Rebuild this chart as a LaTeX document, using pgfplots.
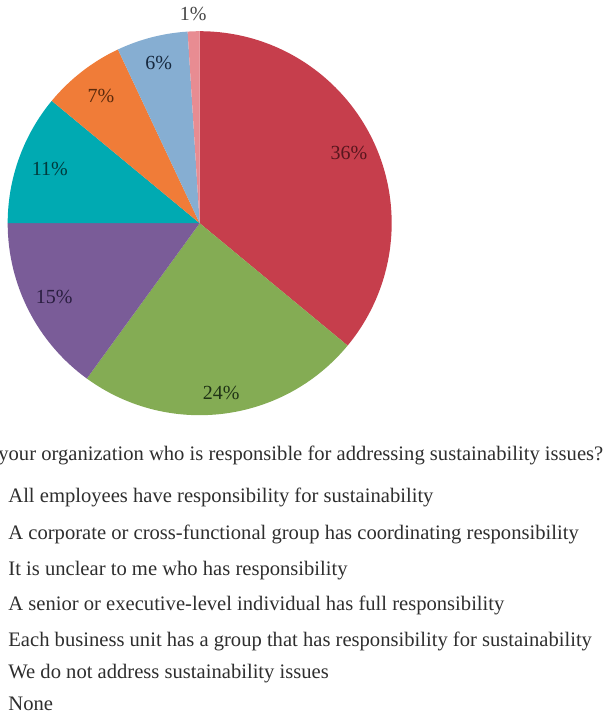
\documentclass[border=0pt]{standalone}
\usepackage{pgfplots}
\usepackage{pgfplotstable}
\usepackage{fontspec}
\pgfplotsset{compat=1.18}
\setmainfont{Liberation Serif}

\definecolor{cRed}{RGB}{198,62,76}
\definecolor{cGreen}{RGB}{132,172,84}
\definecolor{cPurple}{RGB}{122,92,152}
\definecolor{cTeal}{RGB}{0,170,178}
\definecolor{cOrange}{RGB}{240,124,56}
\definecolor{cBlue}{RGB}{134,174,210}
\definecolor{cPink}{RGB}{232,140,146}
\definecolor{tRed}{RGB}{88,22,30}
\definecolor{tGreen}{RGB}{32,52,22}
\definecolor{tPurple}{RGB}{42,30,64}
\definecolor{tTeal}{RGB}{0,58,60}
\definecolor{tOrange}{RGB}{92,42,12}
\definecolor{tBlue}{RGB}{22,40,62}
\definecolor{tGray}{RGB}{70,70,70}

% share in percent, slice colour, label colour, label distance (radius = 1)
\pgfplotstableread{
share fill    text    dist
36    cRed    tRed    0.86
24    cGreen  tGreen  0.89
15    cPurple tPurple 0.85
11    cTeal   tTeal   0.83
7     cOrange tOrange 0.84
6     cBlue   tBlue   0.86
1     cPink   tGray   1.09
}\piedata

\begin{document}
\begin{tikzpicture}[x=1pt,y=1pt]
\useasboundingbox (0,0) rectangle (302.5,-356.5);
\begin{axis}[
  at={(4,-216.25)}, anchor=south west,
  scale only axis, width=192pt, height=192pt,
  xmin=-1, xmax=1, ymin=-1, ymax=1,
  hide axis, clip=false,
]
\xdef\cum{90}
\pgfplotsforeachungrouped \i in {0,...,6}{%
  \pgfplotstablegetelem{\i}{share}\of\piedata \let\vv\pgfplotsretval
  \pgfplotstablegetelem{\i}{fill}\of\piedata \let\fc\pgfplotsretval
  \pgfplotstablegetelem{\i}{text}\of\piedata \let\tc\pgfplotsretval
  \pgfplotstablegetelem{\i}{dist}\of\piedata \let\dd\pgfplotsretval
  \pgfmathsetmacro\sa{\cum}%
  \pgfmathsetmacro\ea{\cum-3.6*\vv}%
  \pgfmathsetmacro\ma{(\sa+\ea)/2}%
  \edef\temp{%
    \noexpand\fill[\fc] (axis cs:0,0) -- (axis cs:{cos(\sa)},{sin(\sa)})
      arc[start angle=\sa, end angle=\ea, radius=96pt] -- cycle;
    \noexpand\node[text=\tc, font=\noexpand\fontsize{10}{12}\noexpand\selectfont]
      at (axis cs:{\dd*cos(\ma)},{\dd*sin(\ma)}) {\vv\noexpand\%};
  }%
  \temp
  \xdef\cum{\ea}%
}
\end{axis}
\begin{scope}[font=\fontsize{10.3}{12}\selectfont, text=black!82]
\node[anchor=west, inner sep=0pt] at (-1,-227.5)
  {your organization who is responsible for addressing sustainability issues?};
\foreach \yy/\txt in {
  248.5/All employees have responsibility for sustainability,
  267/A corporate or cross-functional group has coordinating responsibility,
  285.5/It is unclear to me who has responsibility,
  302.5/A senior or executive-level individual has full responsibility,
  320.5/Each business unit has a group that has responsibility for sustainability,
  337/We do not address sustainability issues,
  352/None}
  \node[anchor=west, inner sep=0pt] at (4,-\yy) {\txt};
\end{scope}
\end{tikzpicture}
\end{document}
